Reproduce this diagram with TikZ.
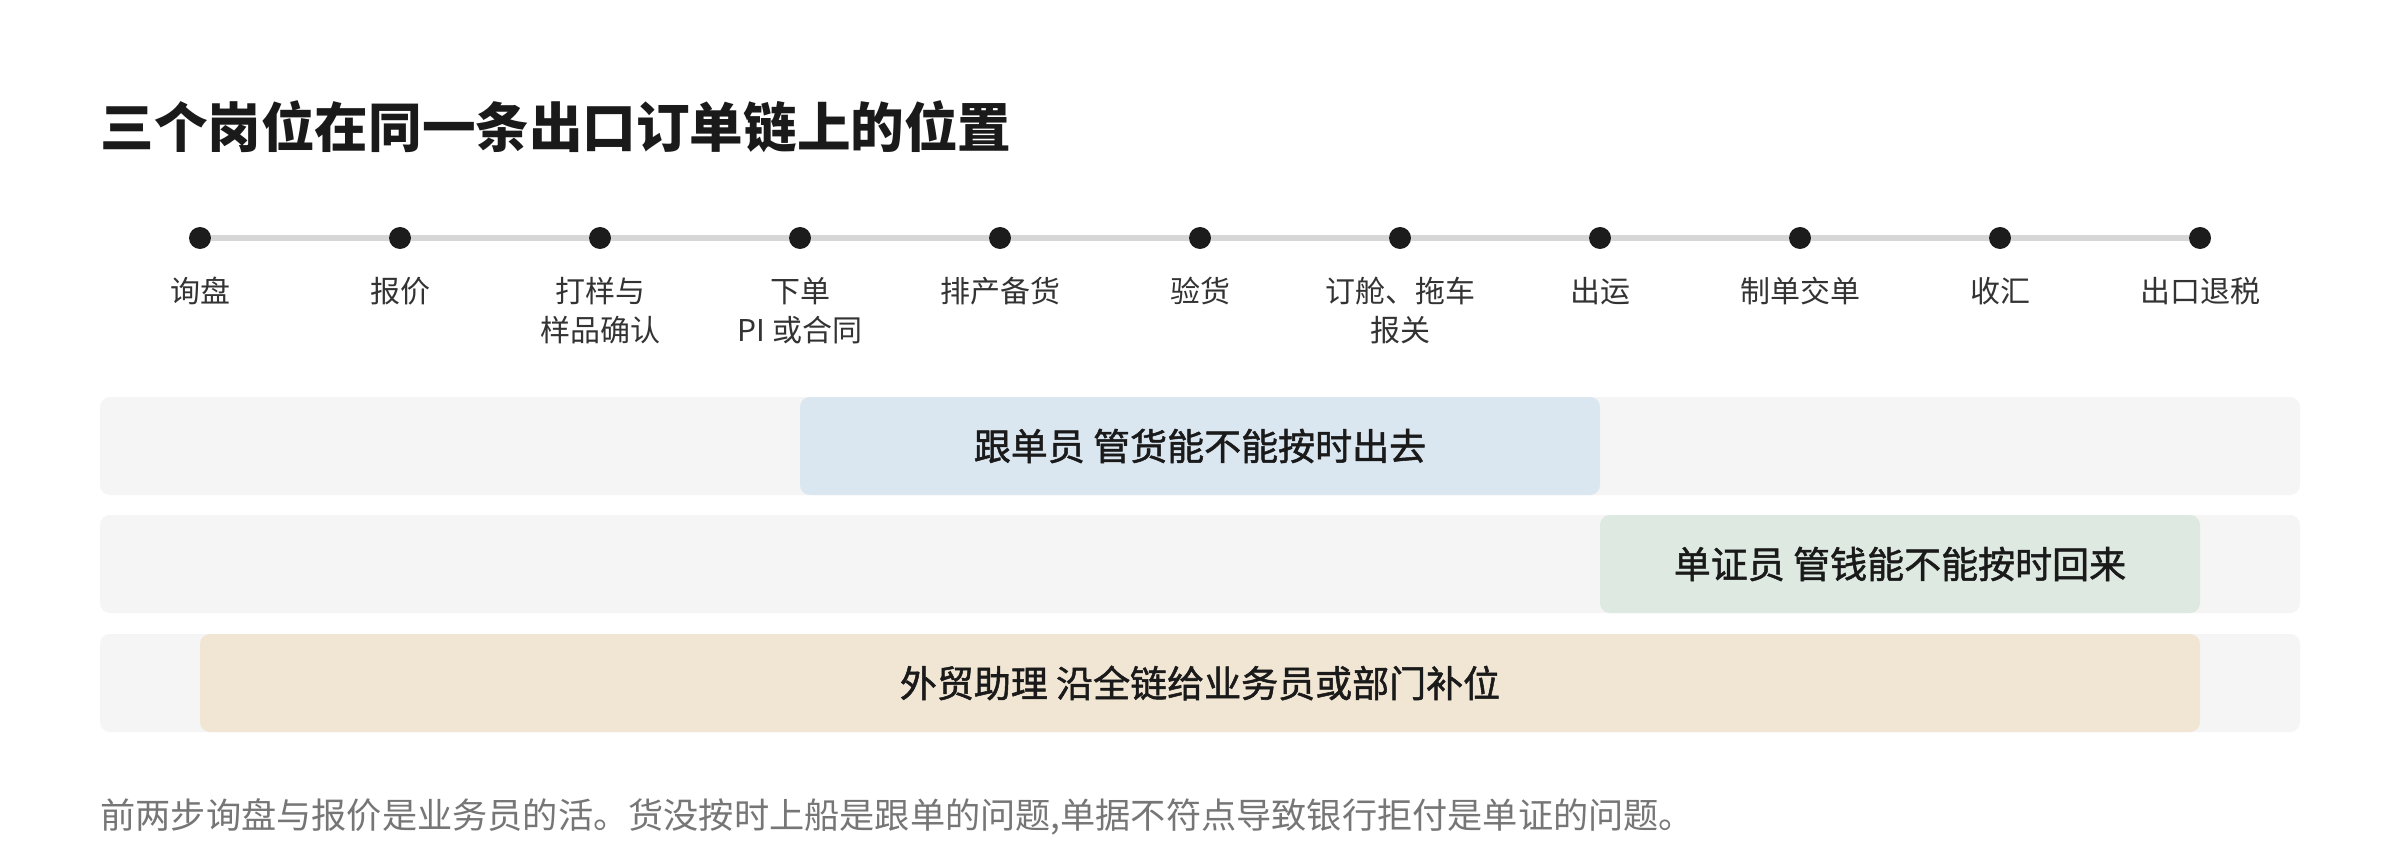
\documentclass[tikz,border=0pt]{standalone}
\usepackage{fontspec}
\newfontfamily\cjk{Noto Sans CJK SC}
\newfontfamily\cjkmid[FakeBold=1.4]{Noto Sans CJK SC}
\definecolor{titlec}{HTML}{1A1A1A}
\definecolor{labelc}{HTML}{333333}
\definecolor{dotc}{HTML}{1C1C1C}
\definecolor{linec}{HTML}{D6D6D6}
\definecolor{bandc}{HTML}{F5F5F5}
\definecolor{bluec}{HTML}{DAE6F0}
\definecolor{greenc}{HTML}{DDE9E1}
\definecolor{beigec}{HTML}{F1E6D4}
\definecolor{footc}{HTML}{767676}
\begin{document}
\begin{tikzpicture}[x=0.5pt,y=-0.5pt,
  dotnode/.style={circle,fill=dotc,minimum size=11pt,inner sep=0pt},
  tline/.style={draw=linec,line width=3pt},
  steplabel/.style={anchor=north,inner sep=0pt,align=center,text=labelc,
    font=\cjk\fontsize{15}{19.5}\selectfont},
  band/.style={fill=bandc,rounded corners=5pt},
  bar/.style={rounded corners=5pt,inner sep=0pt,minimum height=49pt,
    text=titlec,font=\cjkmid\fontsize{18.5}{21}\selectfont}]
\useasboundingbox[fill=white] (0,0) rectangle (2400,845);
% title
\node[anchor=base west,inner sep=0pt,text=titlec,font=\cjk\bfseries\fontsize{26.8}{30}\selectfont]
  (title) at (100,148) {三个岗位在同一条出口订单链上的位置};
% timeline dots
\foreach \i in {1,...,11} {
  \node[dotnode] (d\i) at (\i*200,238) {};
}
\foreach \i [evaluate=\i as \j using int(\i+1)] in {1,...,10} {
  \draw[tline] (d\i) -- (d\j);
}
% labels
\node[steplabel] (l1) at (200,277) {询盘};
\node[steplabel] (l2) at (400,277) {报价};
\node[steplabel] (l3) at (600,277) {打样与\\样品确认};
\node[steplabel] (l4) at (800,277) {下单\\PI 或合同};
\node[steplabel] (l5) at (1000,277) {排产备货};
\node[steplabel] (l6) at (1200,277) {验货};
\node[steplabel] (l7) at (1400,277) {订舱、拖车\\报关};
\node[steplabel] (l8) at (1600,277) {出运};
\node[steplabel] (l9) at (1800,277) {制单交单};
\node[steplabel] (l10) at (2000,277) {收汇};
\node[steplabel] (l11) at (2200,277) {出口退税};
% bands
\fill[band] (100,397) rectangle (2300,495);
\fill[band] (100,515) rectangle (2300,613);
\fill[band] (100,634) rectangle (2300,732);
% role bars
\node[bar,fill=bluec,minimum width=400pt] (r1) at (1200,446) {跟单员 管货能不能按时出去};
\node[bar,fill=greenc,minimum width=300pt] (r2) at (1900,564) {单证员 管钱能不能按时回来};
\node[bar,fill=beigec,minimum width=1000pt] (r3) at (1200,683) {外贸助理 沿全链给业务员或部门补位};
% footer
\node[anchor=west,inner sep=0pt,text=footc,font=\cjk\fontsize{17.6}{20}\selectfont]
  (foot) at (100,817) {前两步询盘与报价是业务员的活。货没按时上船是跟单的问题,单据不符点导致银行拒付是单证的问题。};
\end{tikzpicture}
\end{document}
